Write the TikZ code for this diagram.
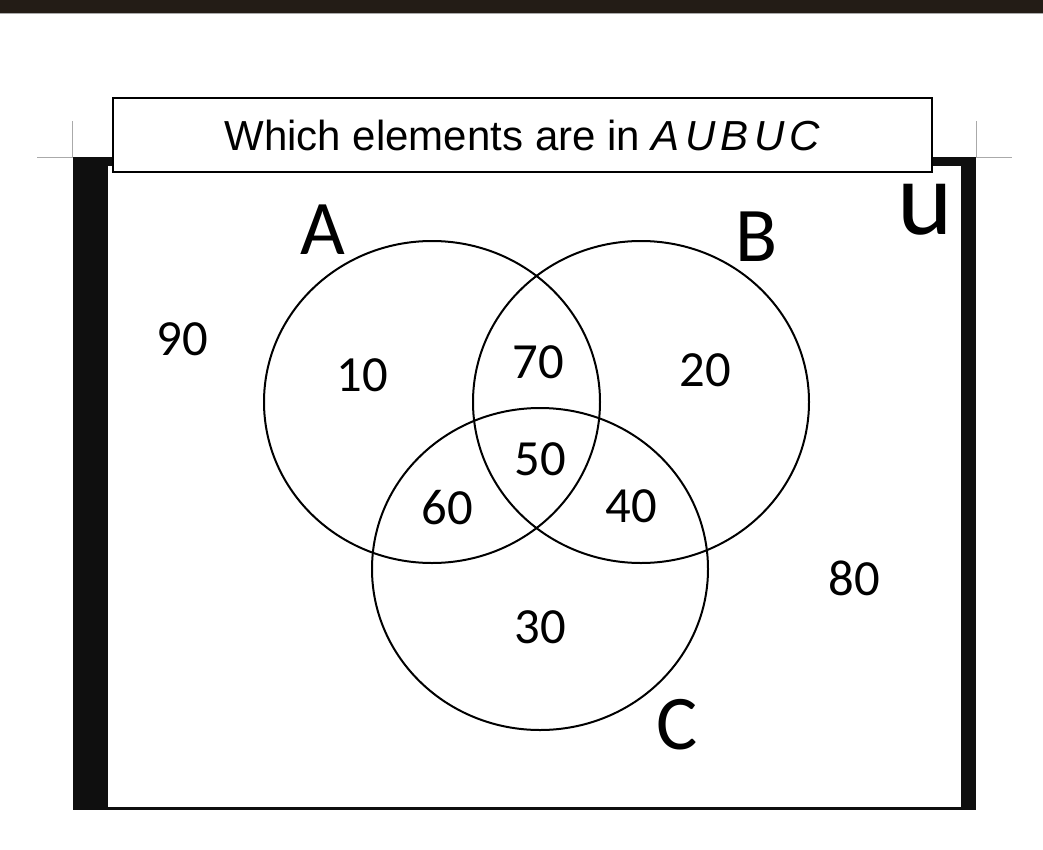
\documentclass[tikz,border=0pt]{standalone}
\usepackage{fontspec}
\setmainfont{Carlito}
\newfontfamily\titlefont{Liberation Sans}
\usetikzlibrary{shapes.geometric}
\definecolor{topbar}{HTML}{231C16}
\definecolor{framedark}{HTML}{0F0F0F}
\definecolor{tickgray}{HTML}{AAAAAA}
\tikzset{
  setshape/.style={draw, ellipse, line width=1.5pt, minimum width=252pt, minimum height=241.5pt},
  count/.style={font=\fontsize{38}{40}\selectfont, inner sep=0pt},
  setname/.style={font=\fontsize{58}{60}\selectfont, inner sep=0pt},
  titlebox/.style={draw, fill=white, line width=1.1pt, minimum width=614pt, minimum height=55.5pt, font=\titlefont\fontsize{31.5}{33}\selectfont}
}
\begin{document}
\begin{tikzpicture}[x=0.75pt,y=-0.75pt]
                \useasboundingbox (0,0) rectangle (1043,850);
                % page background
                \fill[topbar] (0,0) rectangle (1043,13);
                \draw[tickgray, line width=0.75pt] (0,13.5) -- (1043,13.5);
                \fill[framedark] (73,157) rectangle (976,810);
                \fill[white] (108,166) rectangle (961,807);
                \draw[tickgray, line width=0.75pt] (72,121) -- (72,157) -- (37,157);
                \draw[tickgray, line width=0.75pt] (976,121) -- (976,157) -- (1012,157);
                % title
                \node[titlebox] (title) at (522.5,135) {Which elements are in \textit{A\hspace{4pt}U\hspace{4pt}B\hspace{4pt}U\hspace{4pt}C}};
                % sets
                \node[setshape] (A) at (432,402) {};
                \node[setshape] (B) at (641,402) {};
                \node[setshape] (C) at (540,569) {};
                \node[setname] (Aname) at (323,230) {A};
                \node[setname] (Bname) at (757,237) {B};
                \node[setname] (Cname) at (677,725) {C};
                \node[font=\fontsize{79}{80}\selectfont, inner sep=0pt] (Uname) at (925,210) {u};
                % region counts
                \node[count] (out1) at (182,339) {90};
                \node[count] (onlyA) at (362,375) {10};
                \node[count] (AB) at (538,362) {70};
                \node[count] (onlyB) at (705,370) {20};
                \node[count] (ABC) at (540,459) {50};
                \node[count] (AC) at (447,508) {60};
                \node[count] (BC) at (631,506) {40};
                \node[count] (out2) at (854,578) {80};
                \node[count] (onlyC) at (540,627) {30};
            \end{tikzpicture}
\end{document}
